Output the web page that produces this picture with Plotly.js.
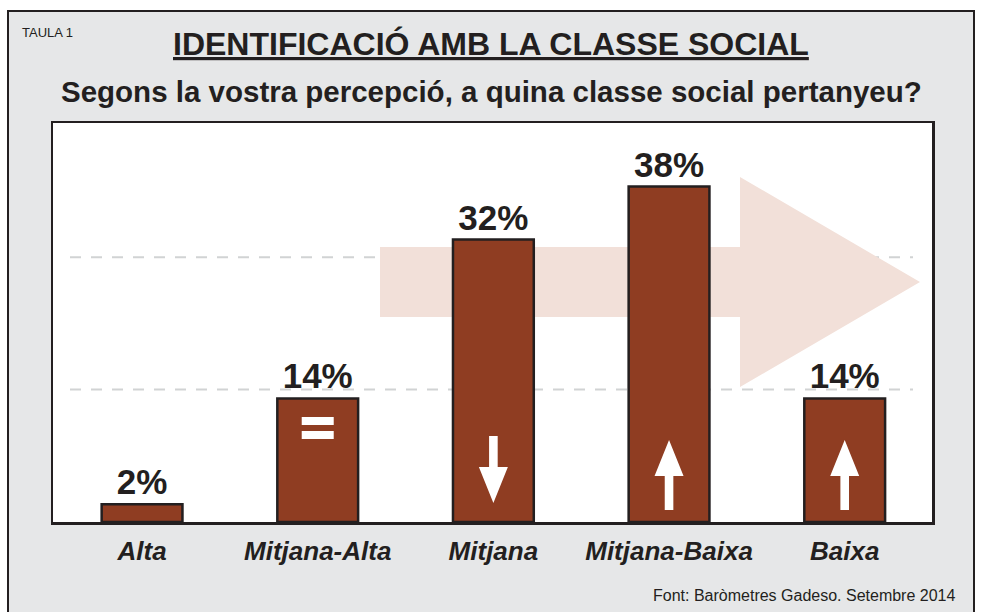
<!DOCTYPE html>
<html>
<head>
<meta charset="utf-8">
<script src="https://cdn.plot.ly/plotly-3.0.1.min.js"></script>
<style>html,body{margin:0;padding:0;background:#fff;}#chart{width:982px;height:612px;}</style>
</head>
<body>
<div id="chart"></div>
<script>
// ---- data ----
const categories = ['Alta', 'Mitjana-Alta', 'Mitjana', 'Mitjana-Baixa', 'Baixa'];
const percentages = [2, 14, 32, 38, 14];
const trends = ['', 'equal', 'down', 'up', 'up'];   // change vs previous wave
const gridValues = [15, 30];

const titleText = 'IDENTIFICACIÓ AMB LA CLASSE SOCIAL';
const subtitleText = 'Segons la vostra percepció, a quina classe social pertanyeu?';
const tableLabel = 'TAULA 1';
const sourceText = 'Font: Baròmetres Gadeso. Setembre 2014';

// ---- layout helpers (pixel -> paper) ----
const W = 982, H = 612;
const M = {l: 53, r: 50, t: 123, b: 90};
const PW = W - M.l - M.r, PH = H - M.t - M.b;
const X = px => (px - M.l) / PW;
const Y = py => (H - M.b - py) / PH;

const INK = '#231f20';
const BAR = '#8f3d22';
const FONT = 'Liberation Sans, Arial, Helvetica, sans-serif';

const shapes = [];
// outer grey frame
shapes.push({type: 'rect', xref: 'paper', yref: 'paper', x0: X(8), x1: X(974), y0: Y(630), y1: Y(11),
  fillcolor: '#e6e7e8', line: {color: INK, width: 2}, layer: 'below'});
// white plot panel
shapes.push({type: 'rect', xref: 'paper', yref: 'paper', x0: 0, x1: 1, y0: 0, y1: 1,
  fillcolor: '#ffffff', line: {width: 0}, layer: 'below'});
// dashed guide lines
gridValues.forEach(v => shapes.push({type: 'line', xref: 'paper', yref: 'y', x0: X(70), x1: X(913), y0: v, y1: v,
  line: {color: '#d1d3d4', width: 2, dash: '11px,10px'}, layer: 'below'}));
// big background arrow
const ap = [[380,247],[740,247],[740,177],[920,282],[740,387],[740,317],[380,317]];
shapes.push({type: 'path', xref: 'paper', yref: 'paper', layer: 'below',
  path: 'M' + ap.map(p => X(p[0]).toFixed(5) + ',' + Y(p[1]).toFixed(5)).join(' L') + ' Z',
  fillcolor: '#f2e0d9', line: {width: 0}});

// trend icons inside bars
categories.forEach((c, i) => {
  const t = trends[i];
  if (t === 'equal') {
    [[-18.5, -26.5], [-32.5, -40.5]].forEach(r => shapes.push({type: 'rect', xref: 'x', yref: 'y',
      xsizemode: 'pixel', ysizemode: 'pixel', xanchor: c, yanchor: percentages[i],
      x0: -16, x1: 16, y0: r[0], y1: r[1], fillcolor: '#ffffff', line: {width: 0}, layer: 'above'}));
  } else if (t === 'down') {
    shapes.push({type: 'path', xref: 'x', yref: 'y', xsizemode: 'pixel', ysizemode: 'pixel',
      xanchor: c, yanchor: 0, layer: 'above', fillcolor: '#ffffff', line: {width: 0},
      path: 'M -4.3,86 L 4.3,86 L 4.3,55 L 14.5,55 L 0,19 L -14.5,55 L -4.3,55 Z'});
  } else if (t === 'up') {
    shapes.push({type: 'path', xref: 'x', yref: 'y', xsizemode: 'pixel', ysizemode: 'pixel',
      xanchor: c, yanchor: 0, layer: 'above', fillcolor: '#ffffff', line: {width: 0},
      path: 'M 0,82 L 14.5,46 L 4.3,46 L 4.3,12 L -4.3,12 L -4.3,46 L -14.5,46 Z'});
  }
});

const annotations = [
  {text: '<b><u>' + titleText + '</u></b>', xref: 'paper', yref: 'paper', x: X(491), y: Y(44),
   xanchor: 'center', yanchor: 'middle', showarrow: false, font: {family: FONT, size: 32, color: INK}},
  {text: '<b>' + subtitleText + '</b>', xref: 'paper', yref: 'paper', x: X(491), y: Y(91),
   xanchor: 'center', yanchor: 'middle', showarrow: false, font: {family: FONT, size: 29.5, color: INK}},
  {text: tableLabel, xref: 'paper', yref: 'paper', x: X(20), y: Y(33),
   xanchor: 'left', yanchor: 'middle', showarrow: false, font: {family: FONT, size: 13, color: INK}},
  {text: sourceText, xref: 'paper', yref: 'paper', x: X(957), y: Y(595),
   xanchor: 'right', yanchor: 'middle', showarrow: false, font: {family: FONT, size: 16, color: INK}}
];

const trace = {
  type: 'bar', x: categories, y: percentages, width: 0.46,
  marker: {color: BAR, line: {color: INK, width: 2.5}},
  texttemplate: '%{y}%', textposition: 'outside', cliponaxis: false,
  textfont: {family: FONT, size: 35, color: INK, weight: 'bold'},
  hoverinfo: 'skip'
};

const layout = {
  width: W, height: H, margin: M,
  paper_bgcolor: '#ffffff', plot_bgcolor: 'rgba(0,0,0,0)',
  showlegend: false,
  xaxis: {type: 'category', range: [-0.507, 4.497], showgrid: false, zeroline: false,
    showline: true, mirror: true, linecolor: INK, linewidth: 2.5,
    ticks: 'outside', ticklen: 4, tickcolor: 'rgba(0,0,0,0)',
    tickfont: {family: FONT, size: 26, color: INK, weight: 'bold', style: 'italic'}},
  yaxis: {range: [0, 45.2], showgrid: false, zeroline: false, showticklabels: false,
    showline: true, mirror: true, linecolor: INK, linewidth: 2.5, ticks: ''},
  shapes: shapes, annotations: annotations
};

Plotly.newPlot('chart', [trace], layout, {displayModeBar: false, staticPlot: true});
</script>
</body>
</html>
